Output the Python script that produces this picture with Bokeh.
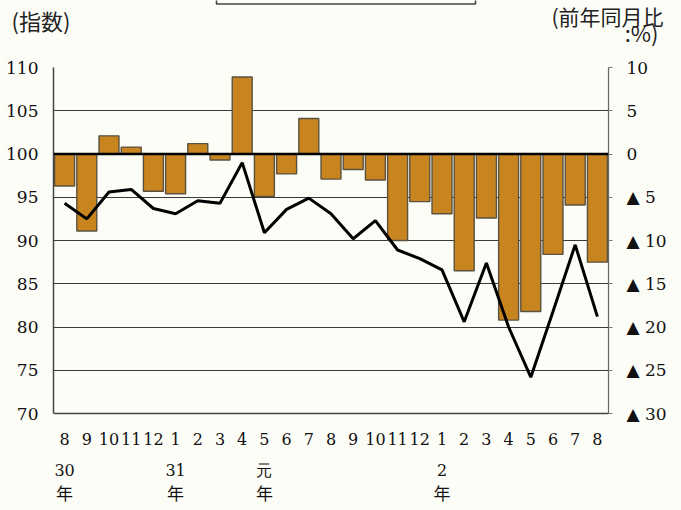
from bokeh.plotting import figure
from bokeh.models import Range1d, LinearAxis, FixedTicker, Span, ColumnDataSource
from bokeh.core.properties import value
from bokeh.embed import file_html
from bokeh.resources import INLINE

# ---- data ----
months = ["8", "9", "10", "11", "12", "1", "2", "3", "4", "5", "6", "7", "8",
          "9", "10", "11", "12", "1", "2", "3", "4", "5", "6", "7", "8"]
index_vals = [94.3, 92.5, 95.6, 95.9, 93.7, 93.1, 94.6, 94.3, 99.0, 90.9, 93.6, 94.9, 93.1,
              90.2, 92.3, 88.9, 87.9, 86.6, 80.6, 87.4, 80.0, 74.2, 81.8, 89.5, 81.2]
yoy_vals = [-3.7, -8.9, 2.1, 0.8, -4.3, -4.6, 1.2, -0.7, 8.9, -4.9, -2.3, 4.1, -2.9,
            -1.8, -3.0, -10.0, -5.5, -6.9, -13.5, -7.4, -19.2, -18.2, -11.6, -5.9, -12.5]
year_pos = [0, 5, 9, 17]
year_labels = ["30", "31", "元", "2"]
left_ticks = [70, 75, 80, 85, 90, 95, 100, 105, 110]
right_ticks = [-30, -25, -20, -15, -10, -5, 0, 5, 10]
right_labels = ["▲ 30", "▲ 25", "▲ 20", "▲ 15", "▲ 10", "▲ 5", "0", "5", "10"]
left_unit = "(指数)"
right_unit_1 = "(前年同月比"
right_unit_2 = ":%)"

BG = "#fdfdf8"
NUMFONT = "DejaVu Serif"
JPFONT = "Noto Sans CJK JP"
TXT = "#111111"

# ---------- header strip (pixel-space figure) ----------
HEAD_H = 50
h = figure(width=681, height=HEAD_H, output_backend="svg", toolbar_location=None,
           x_range=Range1d(0, 681), y_range=Range1d(HEAD_H, 0),
           x_axis_type=None, y_axis_type=None,
           min_border=0, min_border_left=0, min_border_right=0,
           min_border_top=0, min_border_bottom=0,
           background_fill_color=BG, border_fill_color=BG, outline_line_color=None)
h.text(x=[11], y=[19], text=[left_unit], text_font=value(JPFONT), text_font_size="22px",
       text_align="left", text_baseline="middle", text_color="#222222")
h.text(x=[663], y=[0], text=[right_unit_1], text_font=value(JPFONT), text_font_size="21px",
       text_align="right", text_baseline="top", text_color="#222222")
h.text(x=[658], y=[31], text=[right_unit_2], text_font=value(JPFONT), text_font_size="22px",
       text_align="right", text_baseline="middle", text_color="#222222")
h.quad(left=[216], right=[475], top=[-10], bottom=[3.5], fill_color=None,
       line_color="#444444", line_width=1.6)

# ---------- main chart ----------
xs = list(range(len(months)))
src = ColumnDataSource(dict(x=xs, idx=index_vals, yoy=yoy_vals, zero=[0] * len(xs)))

p = figure(width=681, height=510 - HEAD_H, output_backend="svg", toolbar_location=None,
           x_range=Range1d(-0.5, 24.5), y_range=Range1d(70, 110),
           min_border_left=53, min_border_right=73, min_border_top=17, min_border_bottom=97,
           background_fill_color=BG, border_fill_color=BG, outline_line_color=None)
p.extra_y_ranges = {"pct": Range1d(-30, 10)}

# grid
p.xgrid.visible = False
p.ygrid.ticker = FixedTicker(ticks=left_ticks)
p.ygrid.grid_line_color = "#3a3a3a"
p.ygrid.grid_line_width = 1.2

# bars (right axis)
p.vbar(x="x", top="zero", bottom="yoy", width=0.9, source=src, y_range_name="pct",
       fill_color="#c8841f", line_color="#5a5240", line_width=1.4)

# zero line
p.add_layout(Span(location=100, dimension="width", line_color="black", line_width=2.5))

# index line (left axis)
p.line(x="x", y="idx", source=src, line_color="black", line_width=3)

# left axis
ya = p.yaxis[0]
ya.ticker = FixedTicker(ticks=left_ticks)
ya.major_tick_out = 0
ya.major_tick_in = 0
ya.minor_tick_line_color = None
ya.axis_line_color = "#444444"
ya.axis_line_width = 1.5
ya.major_label_standoff = 15
ya.major_label_text_font = NUMFONT
ya.major_label_text_font_size = "17px"
ya.major_label_text_color = TXT

# right axis
ra = LinearAxis(y_range_name="pct", ticker=FixedTicker(ticks=right_ticks),
                major_label_overrides={t: l for t, l in zip(right_ticks, right_labels)})
ra.major_tick_out = 4
ra.major_tick_in = 0
ra.major_tick_line_color = "#777777"
ra.minor_tick_line_color = None
ra.axis_line_color = "#666666"
ra.axis_line_width = 1.2
ra.major_label_standoff = 14
ra.major_label_text_font = NUMFONT
ra.major_label_text_font_size = "17px"
ra.major_label_text_color = TXT
p.add_layout(ra, "right")

# bottom axis (months)
xa = p.xaxis[0]
xa.ticker = FixedTicker(ticks=xs)
xa.major_label_overrides = {i: m for i, m in zip(xs, months)}
xa.major_tick_line_color = None
xa.minor_tick_line_color = None
xa.axis_line_color = "#444444"
xa.axis_line_width = 1.5
xa.major_label_standoff = 13
xa.major_label_text_font = NUMFONT
xa.major_label_text_font_size = "16px"
xa.major_label_text_color = TXT

# year rows as extra axes stacked below
yr = LinearAxis(ticker=FixedTicker(ticks=year_pos),
                major_label_overrides={i: l for i, l in zip(year_pos, year_labels)})
yr.axis_line_color = None
yr.major_tick_line_color = None
yr.minor_tick_line_color = None
yr.major_label_standoff = 7
yr.major_label_text_font = NUMFONT
yr.major_label_text_font_size = "16px"
yr.major_label_text_color = TXT
p.add_layout(yr, "below")

nen = LinearAxis(ticker=FixedTicker(ticks=year_pos),
                 major_label_overrides={i: "年" for i in year_pos})
nen.axis_line_color = None
nen.major_tick_line_color = None
nen.minor_tick_line_color = None
nen.major_label_standoff = -9
nen.major_label_text_font = JPFONT
nen.major_label_text_font_size = "17px"
nen.major_label_text_color = TXT
p.add_layout(nen, "below")

# two independent roots stacked on the page (header strip above the chart)
open("out.html", "w").write(file_html([h, p], INLINE))
